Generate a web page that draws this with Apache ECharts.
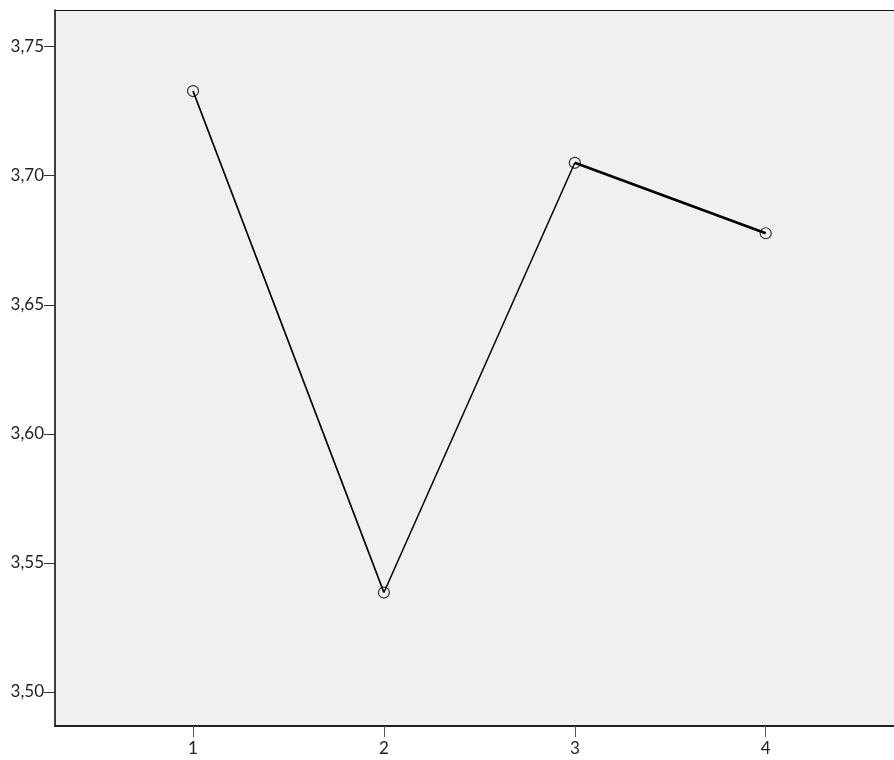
<!DOCTYPE html>
<html><head><meta charset="utf-8">
<script src="https://cdn.jsdelivr.net/npm/echarts@6/dist/echarts.min.js"></script>
<style>html,body{margin:0;padding:0;background:#fff;overflow:hidden}#c{width:894px;height:760px}</style>
</head><body><div id="c"></div>
<script>
const categories = [1, 2, 3, 4];
const values = [3.7328, 3.5385, 3.7050, 3.6777];
const yTicks = [3.50, 3.55, 3.60, 3.65, 3.70, 3.75];
const xTicks = [1, 2, 3, 4];
const segWidths = [1.7, 1.5, 2.6];

const chart = echarts.init(document.getElementById('c'), null, {renderer: 'canvas'});
const series = [];
for (let i = 0; i < categories.length - 1; i++) {
  series.push({
    type: 'line', data: [[categories[i], values[i]], [categories[i+1], values[i+1]]],
    symbol: 'none', lineStyle: {color: '#000', width: segWidths[i]}, z: 2, silent: true
  });
}
series.push({
  type: 'scatter', data: categories.map((c, i) => [c, values[i]]),
  symbol: 'circle', symbolSize: 11,
  itemStyle: {color: 'rgba(0,0,0,0)', borderColor: '#000', borderWidth: 1.2}, z: 3
});
const font = 'Lato, "DejaVu Sans", sans-serif';
chart.setOption({
  animation: false,
  grid: {left: 55, top: 10, right: 0, bottom: 34, show: true, backgroundColor: '#f0f0f0', borderWidth: 0},
  xAxis: [{
    type: 'value', min: 0.277, max: 4.672,
    axisLine: {show: true, lineStyle: {color: '#222', width: 2}},
    axisTick: {show: true, length: 11, lineStyle: {color: '#555'}, customValues: xTicks},
    axisLabel: {customValues: xTicks, color: '#222', fontSize: 17, fontFamily: font, margin: 14},
    splitLine: {show: false}
  }, {
    type: 'value', position: 'top', min: 0.277, max: 4.672,
    axisLine: {show: true, lineStyle: {color: '#111', width: 1.2}},
    axisTick: {show: false}, axisLabel: {show: false}, splitLine: {show: false}
  }],
  yAxis: {
    type: 'value', min: 3.4868, max: 3.7642,
    axisLine: {show: true, lineStyle: {color: '#000', width: 1.5}},
    axisTick: {show: true, length: 11, lineStyle: {color: '#333'}, customValues: yTicks},
    axisLabel: {customValues: yTicks, color: '#222', fontSize: 17, fontFamily: font, margin: 11,
      formatter: v => v.toFixed(2).replace('.', ',')},
    splitLine: {show: false}
  },
  series: series
});
</script></body></html>
